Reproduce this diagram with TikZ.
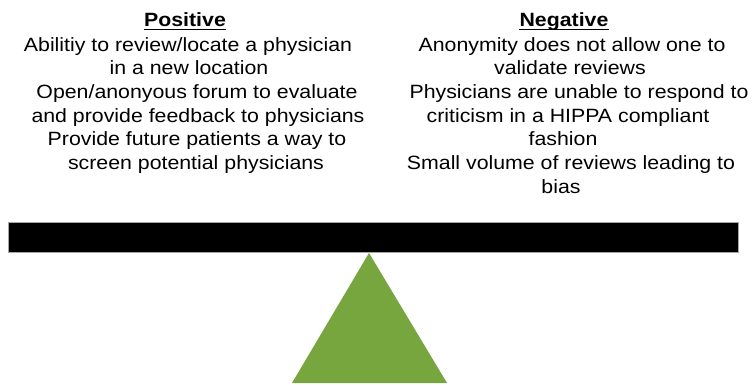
\documentclass[tikz,border=0pt]{standalone}
\usepackage{fontspec}
\setmainfont{Liberation Sans}[FakeStretch=1.11]
\definecolor{fulcrum}{HTML}{77A53E}
\tikzset{
  txt/.style={anchor=base, inner sep=0pt, font=\fontsize{19.2}{22}\selectfont},
  head/.style={anchor=base, inner sep=0pt, font=\fontsize{19.2}{22}\selectfont\bfseries},
}
\begin{document}
\begin{tikzpicture}[x=1pt,y=-1pt]
\useasboundingbox (0,0) rectangle (752,385);
% headings
\node[head] (pos) at (185,26.7) {Positive};
\node[head] (neg) at (564,26.7) {Negative};
\draw[line width=1.4pt] ([yshift=-2.6pt]pos.base west) -- ([yshift=-2.6pt]pos.base east);
\draw[line width=1.4pt] ([yshift=-2.6pt]neg.base west) -- ([yshift=-2.6pt]neg.base east);
% positive
\node[txt] (p1) at (188,51.3) {Abilitiy to review/locate a physician};
\node[txt] (p2) at (189,75) {in a new location};
\node[txt] (p3) at (197,98.7) {Open/anonyous forum to evaluate};
\node[txt] (p4) at (198,122.3) {and provide feedback to physicians};
\node[txt] (p5) at (197,146) {Provide future patients a way to};
\node[txt] (p6) at (196,169.6) {screen potential physicians};
% negative
\node[txt] (n1) at (572,51.3) {Anonymity does not allow one to};
\node[txt] (n2) at (570,75) {validate reviews};
\node[txt] (n3) at (579,98.7) {Physicians are unable to respond to};
\node[txt] (n4) at (568,122.3) {criticism in a HIPPA compliant};
\node[txt] (n5) at (563,146) {fashion};
\node[txt] (n6) at (571,169.6) {Small volume of reviews leading to};
\node[txt] (n7) at (561,193.3) {bias};
% beam
\path[fill=black, draw=gray!70, line width=0.6pt] (8,222) rectangle (738,252);
% fulcrum
\fill[fulcrum] (369,253) -- (447,383) -- (292,383) -- cycle;
\end{tikzpicture}
\end{document}
